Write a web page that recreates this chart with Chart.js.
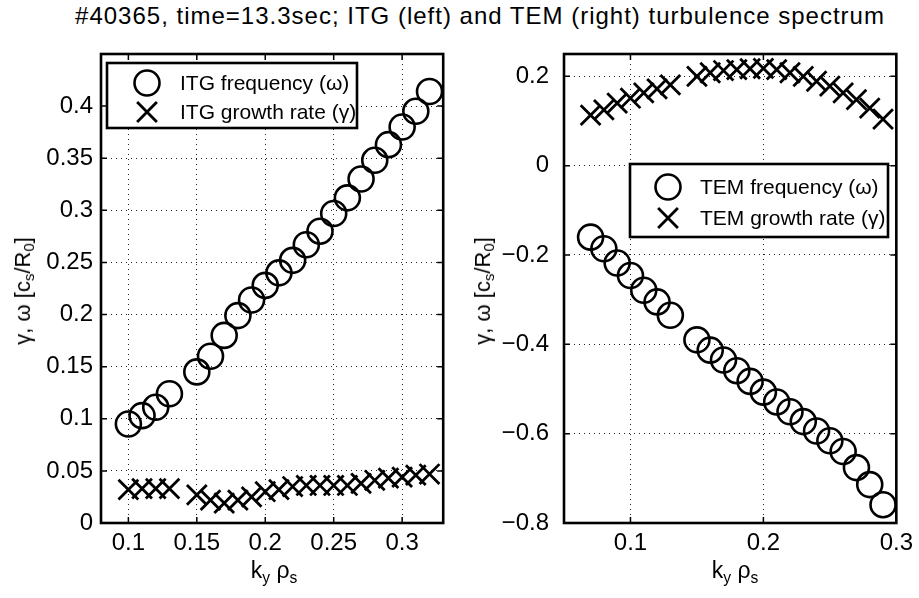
<!DOCTYPE html>
<html>
<head>
<meta charset="utf-8">
<script src="https://cdn.jsdelivr.net/npm/chart.js@4.4.1/dist/chart.umd.min.js"></script>
<style>
  body { margin: 0; background: #fff; font-family: "Liberation Sans", Arial, sans-serif; }
  #page { position: relative; width: 919px; height: 598px; overflow: hidden; }
  #title { position: absolute; left: 480px; top: 2px; font-size: 24px; letter-spacing: 1px; white-space: nowrap; transform: translateX(-50%); }
  #leftWrap { position: absolute; left: 0; top: 0; width: 460px; height: 598px; }
  #rightWrap { position: absolute; left: 460px; top: 0; width: 459px; height: 598px; }
  .xlab { position: absolute; top: 557px; font-size: 23px; white-space: nowrap; transform: translateX(-50%); }
  .ylab { position: absolute; font-size: 22px; white-space: nowrap; transform: translate(-50%, -50%) rotate(-90deg); }
  sub { font-size: 68%; vertical-align: -0.3em; line-height: 0; }
</style>
</head>
<body>
<div id="page">
  <div id="title">#40365, time=13.3sec; ITG (left) and TEM (right) turbulence spectrum</div>
  <div id="leftWrap"><canvas id="leftChart"></canvas></div>
  <div id="rightWrap"><canvas id="rightChart"></canvas></div>
  <div class="xlab" style="left:274px">k<sub>y</sub> ρ<sub>s</sub></div>
  <div class="xlab" style="left:735px">k<sub>y</sub> ρ<sub>s</sub></div>
  <div class="ylab" style="left:23px; top:291px">γ, ω [c<sub>s</sub>/R<sub>0</sub>]</div>
  <div class="ylab" style="left:483px; top:291px">γ, ω [c<sub>s</sub>/R<sub>0</sub>]</div>
</div>
<script>
// ITG (left panel)
const itgK = [0.10, 0.11, 0.12, 0.13, 0.15, 0.16, 0.17, 0.18, 0.19, 0.20, 0.21,
              0.22, 0.23, 0.24, 0.25, 0.26, 0.27, 0.28, 0.29, 0.30, 0.31, 0.32];
const itgFreq = [0.095, 0.103, 0.111, 0.124, 0.145, 0.160, 0.180, 0.199, 0.214, 0.228, 0.240,
                 0.252, 0.267, 0.280, 0.297, 0.312, 0.330, 0.348, 0.363, 0.380, 0.395, 0.414];
const itgGrowth = [0.032, 0.033, 0.033, 0.033, 0.027, 0.022, 0.019, 0.022, 0.025, 0.030, 0.032,
                   0.035, 0.036, 0.036, 0.036, 0.036, 0.038, 0.041, 0.043, 0.044, 0.046, 0.047];

// TEM (right panel)
const temK = [0.07, 0.08, 0.09, 0.10, 0.11, 0.12, 0.13, 0.15, 0.16, 0.17, 0.18,
              0.19, 0.20, 0.21, 0.22, 0.23, 0.24, 0.25, 0.26, 0.27, 0.28, 0.29];
const temFreq = [-0.160, -0.186, -0.218, -0.246, -0.279, -0.305, -0.335, -0.390, -0.413, -0.435, -0.459,
                 -0.483, -0.507, -0.529, -0.551, -0.573, -0.594, -0.616, -0.640, -0.676, -0.714, -0.759];
const temGrowth = [0.113, 0.125, 0.140, 0.151, 0.163, 0.172, 0.181, 0.200, 0.208, 0.213, 0.215,
                   0.217, 0.218, 0.215, 0.208, 0.200, 0.189, 0.178, 0.163, 0.148, 0.129, 0.104];

// tick labels
const leftXTicks = [0.1, 0.15, 0.2, 0.25, 0.3];
const leftYTicks = [0, 0.05, 0.1, 0.15, 0.2, 0.25, 0.3, 0.35, 0.4];
const rightXTicks = [0.1, 0.2, 0.3];
const rightYTicks = [-0.8, -0.6, -0.4, -0.2, 0, 0.2];

const FONT = '"Liberation Sans", Arial, sans-serif';

function toPoints(xs, ys) {
    return xs.map((x, i) => ({ x: x, y: ys[i] }));
}

// box around the axes, inward tick marks and the boxed legend
const framePlugin = {
    id: 'frame',
    afterDraw(chart, args, opts) {
        const ctx = chart.ctx;
        const a = chart.chartArea;
        const xs = chart.scales.x, ys = chart.scales.y;
        ctx.save();
        ctx.strokeStyle = '#000';
        ctx.lineWidth = 1.5;
        ctx.beginPath();
        xs.ticks.forEach(t => {
            const px = xs.getPixelForValue(t.value);
            ctx.moveTo(px, a.bottom); ctx.lineTo(px, a.bottom - 6);
            ctx.moveTo(px, a.top); ctx.lineTo(px, a.top + 6);
        });
        ys.ticks.forEach(t => {
            const py = ys.getPixelForValue(t.value);
            ctx.moveTo(a.left, py); ctx.lineTo(a.left + 6, py);
            ctx.moveTo(a.right, py); ctx.lineTo(a.right - 6, py);
        });
        ctx.stroke();
        ctx.lineWidth = 2.6;
        ctx.strokeRect(a.left, a.top, a.width, a.height);

        // legend
        const lg = opts.legend;
        ctx.fillStyle = '#fff';
        ctx.fillRect(lg.x, lg.y, lg.w, lg.h);
        ctx.lineWidth = 2.6;
        ctx.strokeRect(lg.x, lg.y, lg.w, lg.h);
        ctx.font = '21px ' + FONT;
        ctx.textBaseline = 'middle';
        ctx.textAlign = 'left';
        chart.data.datasets.forEach((ds, i) => {
            const rowY = lg.rows[i];
            ctx.strokeStyle = '#000';
            ctx.lineWidth = ds.borderWidth;
            Chart.helpers.drawPoint(ctx, {
                pointStyle: ds.pointStyle,
                radius: ds.pointRadius,
                rotation: 0,
                borderWidth: ds.borderWidth
            }, lg.markerX, rowY);
            ctx.fillStyle = '#000';
            ctx.fillText(ds.label, lg.textX, rowY + 1);
        });
        ctx.restore();
    }
};

function makeChart(id, cfg) {
    const tickFont = { family: FONT, size: 24 };
    return new Chart(document.getElementById(id), {
        type: 'scatter',
        data: {
            datasets: [
                {
                    label: cfg.freqLabel,
                    data: toPoints(cfg.k, cfg.freq),
                    pointStyle: 'circle',
                    pointRadius: 12.5,
                    pointHoverRadius: 12.5,
                    borderColor: '#000',
                    backgroundColor: 'rgba(0,0,0,0)',
                    borderWidth: 2.6,
                    showLine: false,
                    clip: false
                },
                {
                    label: cfg.growthLabel,
                    data: toPoints(cfg.k, cfg.growth),
                    pointStyle: 'crossRot',
                    pointRadius: 14,
                    pointHoverRadius: 14,
                    borderColor: '#000',
                    backgroundColor: '#000',
                    borderWidth: 2.8,
                    showLine: false,
                    clip: false
                }
            ]
        },
        options: {
            responsive: false,
            maintainAspectRatio: false,
            animation: false,
            events: [],
            layout: { padding: { left: 0, top: 54, right: cfg.padRight, bottom: 0 } },
            plugins: {
                legend: { display: false },
                tooltip: { enabled: false },
                frame: { legend: cfg.legend }
            },
            scales: {
                x: {
                    type: 'linear',
                    min: cfg.xMin,
                    max: cfg.xMax,
                    afterBuildTicks: s => { s.ticks = cfg.xTicks.map(v => ({ value: v })); },
                    afterFit: s => { s.height = 75; },
                    ticks: { font: tickFont, color: '#000', padding: 6, autoSkip: false, maxRotation: 0,
                             callback: v => String(v) },
                    grid: { color: '#222', lineWidth: 1, drawTicks: false },
                    border: { display: false, dash: [1, 4] }
                },
                y: {
                    type: 'linear',
                    min: cfg.yMin,
                    max: cfg.yMax,
                    afterBuildTicks: s => { s.ticks = cfg.yTicks.map(v => ({ value: v })); },
                    afterFit: s => { s.width = cfg.yWidth; },
                    ticks: { font: tickFont, color: '#000', padding: cfg.yPad, autoSkip: false,
                             callback: v => String(v).replace('-', '\u2212') },
                    grid: { color: '#222', lineWidth: 1, drawTicks: false },
                    border: { display: false, dash: [1, 4] }
                }
            }
        },
        plugins: [framePlugin]
    });
}

function sizeCanvas(id, w, h) {
    const c = document.getElementById(id);
    c.width = w; c.height = h;
    c.style.width = w + 'px'; c.style.height = h + 'px';
}

sizeCanvas('leftChart', 460, 598);
sizeCanvas('rightChart', 459, 598);

makeChart('leftChart', {
    k: itgK, freq: itgFreq, growth: itgGrowth,
    freqLabel: 'ITG frequency (ω)', growthLabel: 'ITG growth rate (γ)',
    xMin: 0.08, xMax: 0.33, yMin: 0, yMax: 0.45,
    xTicks: leftXTicks, yTicks: leftYTicks,
    yWidth: 101, yPad: 8, padRight: 12,
    legend: { x: 107, y: 63, w: 250, h: 65, markerX: 147, textX: 180, rows: [83, 112] }
});

makeChart('rightChart', {
    k: temK, freq: temFreq, growth: temGrowth,
    freqLabel: 'TEM frequency (ω)', growthLabel: 'TEM growth rate (γ)',
    xMin: 0.05, xMax: 0.3, yMin: -0.8, yMax: 0.25,
    xTicks: rightXTicks, yTicks: rightYTicks,
    yWidth: 104, yPad: 15, padRight: 19,
    legend: { x: 170, y: 164, w: 258, h: 73, markerX: 208, textX: 240, rows: [187, 218] }
});
</script>
</body>
</html>
